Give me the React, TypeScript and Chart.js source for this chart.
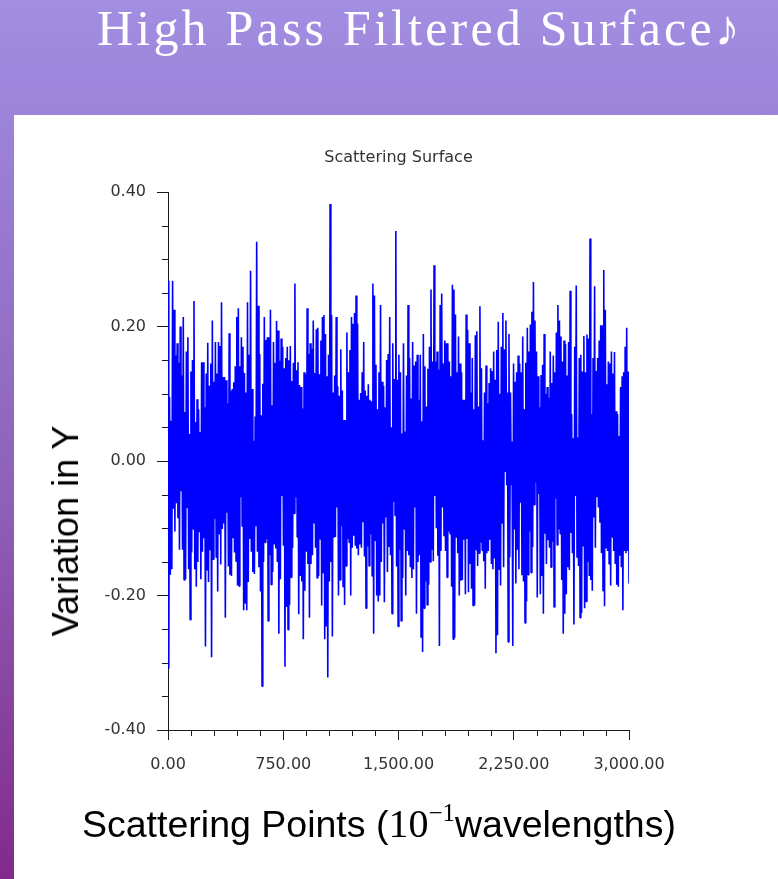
import React, { useEffect, useRef } from "react";
import { Chart, registerables } from "chart.js";

Chart.register(...registerables);

// Upper envelope of the surface per column, left to right
const highs: number[] = [
  0.268, 0.095, 0.06, 0.268, 0.225, 0.157, 0.175, 0.146, 0.2, 0.127,
  0.214, 0.073, 0.163, 0.184, 0.04, 0.133, 0.15, 0.238, 0.058, 0.092,
  0.077, 0.043, 0.147, 0.147, 0.08, 0.13, 0.176, 0.112, 0.145, 0.209,
  0.118, 0.177, 0.13, 0.177, 0.171, 0.236, 0.125, 0.125, 0.12, 0.086,
  0.19, 0.104, 0.107, 0.117, 0.141, 0.214, 0.227, 0.141, 0.184, 0.17,
  0.131, 0.102, 0.236, 0.158, 0.283, 0.107, 0.03, 0.066, 0.326, 0.231,
  0.159, 0.068, 0.115, 0.214, 0.18, 0.184, 0.184, 0.225, 0.083, 0.177,
  0.146, 0.208, 0.194, 0.149, 0.182, 0.17, 0.138, 0.153, 0.17, 0.15,
  0.171, 0.119, 0.146, 0.264, 0.135, 0.147, 0.113, 0.11, 0.078, 0.132,
  0.129, 0.227, 0.159, 0.175, 0.167, 0.209, 0.131, 0.196,
  0.198, 0.129, 0.179, 0.214, 0.217, 0.189, 0.126, 0.158, 0.382, 0.217,
  0.102, 0.127, 0.214, 0.111, 0.097, 0.166, 0.105, 0.061, 0.061, 0.191,
  0.132, 0.165, 0.214, 0.204, 0.22, 0.246, 0.204, 0.091, 0.101, 0.132,
  0.177, 0.105, 0.097, 0.114, 0.091, 0.089, 0.264, 0.246, 0.143, 0.077,
  0.132, 0.232, 0.118, 0.112, 0.08, 0.15, 0.159, 0.214, 0.05, 0.175,
  0.122, 0.342, 0.121, 0.158, 0.132, 0.041, 0.175, 0.044, 0.127, 0.232,
  0.153, 0.093, 0.177, 0.142, 0.148, 0.158, 0.091, 0.158, 0.059, 0.189,
  0.141, 0.081, 0.137, 0.17, 0.255, 0.148, 0.291, 0.148, 0.163, 0.136,
  0.232, 0.249, 0.145, 0.179, 0.175, 0.175, 0.148, 0.126, 0.262, 0.255,
  0.218, 0.132, 0.185, 0.145, 0.132, 0.091, 0.091, 0.218, 0.195,
  0.175, 0.102, 0.153, 0.077, 0.187, 0.193, 0.081, 0.23, 0.138, 0.031,
  0.102, 0.142, 0.086, 0.116, 0.138, 0.134, 0.163, 0.121, 0.165, 0.207,
  0.1, 0.17, 0.22, 0.166, 0.209, 0.102, 0.189, 0.102, 0.029, 0.145,
  0.118, 0.132, 0.157, 0.145, 0.132, 0.185, 0.077, 0.146, 0.198, 0.163,
  0.203, 0.222, 0.266, 0.209, 0.163, 0.126, 0.08, 0.128, 0.143, 0.189,
  0.1, 0.11, 0.094, 0.163, 0.116, 0.157, 0.132, 0.191, 0.232, 0.209,
  0.185, 0.148, 0.179, 0.174, 0.127, 0.177, 0.253, 0.07, 0.034, 0.17,
  0.261, 0.035, 0.153, 0.158, 0.133, 0.186, 0.132, 0.188, 0.182, 0.331,
  0.07, 0.153, 0.26, 0.134, 0.153, 0.179, 0.202, 0.202, 0.284, 0.225,
  0.114, 0.148, 0.145, 0.163, 0.13, 0.162, 0.074, 0.07, 0.037, 0.11,
  0.126, 0.132, 0.17, 0.198, 0.133,
];

// Lower envelope of the surface per column, left to right
const lows: number[] = [
  -0.309, -0.169, -0.161, -0.071, -0.105, -0.063, -0.085, -0.132, -0.045, -0.132,
  -0.177, -0.176, -0.069, -0.161, -0.236, -0.136, -0.101, -0.161, -0.187, -0.15,
  -0.106, -0.176, -0.135, -0.115, -0.276, -0.163, -0.18, -0.132, -0.292, -0.146,
  -0.086, -0.143, -0.194, -0.108, -0.154, -0.101, -0.093, -0.233, -0.077, -0.157,
  -0.169, -0.171, -0.115, -0.136, -0.149, -0.185, -0.186, -0.054, -0.097, -0.222,
  -0.211, -0.222, -0.18, -0.116, -0.135, -0.165, -0.168, -0.097, -0.135, -0.158,
  -0.194, -0.335, -0.15, -0.121, -0.116, -0.238, -0.14, -0.184, -0.165, -0.124,
  -0.13, -0.15, -0.257, -0.176, -0.052, -0.126, -0.306, -0.217, -0.251, -0.214,
  -0.173, -0.129, -0.078, -0.054, -0.113, -0.228, -0.171, -0.179, -0.265, -0.193,
  -0.135, -0.153, -0.233, -0.153, -0.14, -0.092, -0.129, -0.174,
  -0.171, -0.116, -0.215, -0.166, -0.265, -0.246, -0.322, -0.179, -0.15, -0.261,
  -0.114, -0.113, -0.069, -0.2, -0.177, -0.097, -0.187, -0.214, -0.156, -0.116,
  -0.121, -0.2, -0.129, -0.111, -0.126, -0.13, -0.14, -0.124, -0.129, -0.091,
  -0.142, -0.219, -0.127, -0.156, -0.109, -0.171, -0.257, -0.118, -0.2, -0.209,
  -0.2, -0.15, -0.093, -0.21, -0.084, -0.165, -0.128, -0.14, -0.227, -0.061,
  -0.081, -0.157, -0.246, -0.132, -0.238, -0.174, -0.101, -0.2, -0.134, -0.14,
  -0.158, -0.174, -0.161, -0.069, -0.227, -0.15, -0.14, -0.262, -0.284, -0.219,
  -0.179, -0.214, -0.184, -0.15, -0.132, -0.149, -0.052, -0.1, -0.141, -0.275,
  -0.134, -0.069, -0.112, -0.134, -0.173, -0.105, -0.108, -0.187, -0.265, -0.263,
  -0.113, -0.137, -0.2, -0.178, -0.177, -0.117, -0.198, -0.116, -0.195,
  -0.153, -0.19, -0.215, -0.215, -0.132, -0.156, -0.137, -0.121, -0.133, -0.149,
  -0.19, -0.137, -0.134, -0.117, -0.153, -0.161, -0.145, -0.286, -0.259, -0.161,
  -0.185, -0.092, -0.158, -0.015, -0.036, -0.269, -0.143, -0.036, -0.275, -0.102,
  -0.182, -0.132, -0.161, -0.062, -0.17, -0.179, -0.241, -0.209, -0.169, -0.105,
  -0.166, -0.128, -0.065, -0.032, -0.203, -0.049, -0.198, -0.171, -0.227, -0.108,
  -0.153, -0.118, -0.129, -0.158, -0.12, -0.217, -0.056, -0.125, -0.102, -0.108,
  -0.177, -0.257, -0.227, -0.198, -0.158, -0.162, -0.107, -0.137, -0.243, -0.052,
  -0.143, -0.156, -0.233, -0.226, -0.126, -0.219, -0.209, -0.15, -0.171, -0.177,
  -0.193, -0.084, -0.129, -0.054, -0.069, -0.092, -0.137, -0.193, -0.216, -0.129,
  -0.134, -0.153, -0.185, -0.113, -0.134, -0.153, -0.184, -0.187, -0.141, -0.158,
  -0.222, -0.134, -0.137, -0.134, -0.182,
];

const xMin = 0;
const xMax = 3000;
const yMin = -0.4;
const yMax = 0.4;
const xTicks: number[] = [0, 750, 1500, 2250, 3000];
const yTicks: number[] = [-0.4, -0.2, 0, 0.2, 0.4];
const xMinorTicks: number[] = [150, 300, 450, 600, 900, 1050, 1200, 1350, 1650, 1800, 1950, 2100, 2400, 2550, 2700, 2850];
const yMinorTicks: number[] = [-0.35, -0.3, -0.25, -0.15, -0.1, -0.05, 0.05, 0.1, 0.15, 0.25, 0.3, 0.35];

const chartTitle = "Scattering Surface";
const yTitle = "Variation in Y";

const AXIS_COLOR = "#1a1a1a";
const TEXT_COLOR = "#333333";
const TICK_FONT = { family: "'DejaVu Sans', sans-serif", size: 16 };

const extrasPlugin = {
  id: "extras",
  afterDraw(chart: any) {
    const { ctx, chartArea, scales } = chart;
    const x = scales.x;
    const y = scales.y;
    ctx.save();
    ctx.strokeStyle = AXIS_COLOR;
    ctx.lineWidth = 1;
    ctx.beginPath();
    for (const v of yMinorTicks) {
      const py = Math.round(y.getPixelForValue(v)) + 0.5;
      ctx.moveTo(chartArea.left - 6, py);
      ctx.lineTo(chartArea.left, py);
    }
    for (const v of xMinorTicks) {
      const px = Math.round(x.getPixelForValue(v)) + 0.5;
      ctx.moveTo(px, chartArea.bottom);
      ctx.lineTo(px, chartArea.bottom + 6);
    }
    ctx.stroke();
    // chart title centred over the plot area
    ctx.fillStyle = TEXT_COLOR;
    ctx.font = "16px 'DejaVu Sans', sans-serif";
    ctx.textAlign = "center";
    ctx.textBaseline = "middle";
    ctx.fillText(chartTitle, (chartArea.left + chartArea.right) / 2, 44);
    ctx.restore();
  },
};

function ChartCanvas() {
  const ref = useRef<HTMLCanvasElement | null>(null);
  useEffect(() => {
    if (!ref.current) return;
    const n = highs.length;
    const step = (xMax - xMin) / (n - 0.5);
    const points: { x: number; y: number }[] = [];
    for (let i = 0; i < n; i++) {
      points.push({ x: xMin + i * step, y: highs[i] });
      points.push({ x: xMin + i * step + step / 2, y: lows[i] });
    }
    const chart = new Chart(ref.current, {
      type: "line",
      data: {
        datasets: [
          {
            data: points,
            borderColor: "#0000FF",
            borderWidth: 1.6,
            borderJoinStyle: "bevel",
            pointRadius: 0,
            fill: false,
            tension: 0,
          },
        ],
      },
      options: {
        animation: false,
        responsive: false,
        devicePixelRatio: 1,
        parsing: false,
        layout: { padding: { left: 0, right: 149, top: 78, bottom: 0 } },
        plugins: {
          legend: { display: false },
          tooltip: { enabled: false },
          title: { display: false },
        },
        scales: {
          x: {
            type: "linear",
            min: xMin,
            max: xMax,
            afterBuildTicks: (scale: any) => {
              scale.ticks = xTicks.map((v) => ({ value: v }));
            },
            afterFit: (scale: any) => {
              scale.height = 149;
            },
            ticks: {
              color: TEXT_COLOR,
              font: TICK_FONT,
              padding: 15,
              maxRotation: 0,
              autoSkip: false,
              callback: (v: any) =>
                Number(v).toLocaleString("en-US", { minimumFractionDigits: 2, maximumFractionDigits: 2 }),
            },
            grid: {
              display: true,
              drawOnChartArea: false,
              drawTicks: true,
              tickLength: 10,
              color: AXIS_COLOR,
              tickColor: AXIS_COLOR,
            },
            border: { display: true, color: AXIS_COLOR, width: 1 },
          },
          y: {
            type: "linear",
            min: yMin,
            max: yMax,
            afterBuildTicks: (scale: any) => {
              scale.ticks = yTicks.map((v) => ({ value: v }));
            },
            afterFit: (scale: any) => {
              scale.width = 154;
            },
            ticks: {
              color: TEXT_COLOR,
              font: TICK_FONT,
              padding: 11,
              autoSkip: false,
              callback: (v: any) => (Math.abs(Number(v)) < 1e-9 ? 0 : Number(v)).toFixed(2),
            },
            grid: {
              display: true,
              drawOnChartArea: false,
              drawTicks: true,
              tickLength: 11,
              color: AXIS_COLOR,
              tickColor: AXIS_COLOR,
            },
            border: { display: true, color: AXIS_COLOR, width: 1 },
          },
        },
      },
      plugins: [extrasPlugin],
    } as any);
    return () => chart.destroy();
  }, []);
  return <canvas ref={ref} width={764} height={765} style={{ display: "block", width: 764, height: 765 }} />;
}

export default function App() {
  return (
    <div
      style={{
        position: "absolute",
        left: 0,
        top: 0,
        width: 778,
        height: 879,
        overflow: "hidden",
        background: "linear-gradient(to bottom, #A28EE2 0%, #9B82D8 15%, #8F62BA 55%, #822A8B 100%)",
      }}
    >
      <div
        style={{
          position: "absolute",
          left: 97,
          top: 3,
          color: "#ffffff",
          fontFamily: "'Liberation Serif', serif",
          fontSize: 50,
          lineHeight: "50px",
          letterSpacing: "3.2px",
          whiteSpace: "nowrap",
        }}
      >
        High Pass Filtered Surface♪
      </div>
      <div style={{ position: "absolute", left: 14, top: 115, width: 764, height: 764, background: "#ffffff" }}>
        <div style={{ position: "absolute", left: 0, top: -1 }}>
          <ChartCanvas />
        </div>
        <div
          style={{
            position: "absolute",
            left: 52,
            top: 416,
            transform: "translate(-50%, -50%) rotate(-90deg)",
            fontFamily: "'Liberation Sans', Arial, sans-serif",
            fontSize: 36,
            lineHeight: "36px",
            color: "#000000",
            whiteSpace: "nowrap",
          }}
        >
          {yTitle}
        </div>
        <div
          style={{
            position: "absolute",
            left: 68,
            top: 690,
            fontFamily: "'Liberation Sans', Arial, sans-serif",
            fontSize: 37.5,
            lineHeight: "38px",
            color: "#000000",
            whiteSpace: "nowrap",
          }}
        >
          Scattering Points (
          <span style={{ fontFamily: "'Liberation Serif', serif", fontSize: 40 }}>10</span>
          <span style={{ fontFamily: "'Liberation Serif', serif", fontSize: 25, position: "relative", top: -16 }}>
            −1
          </span>
          wavelengths)
        </div>
      </div>
    </div>
  );
}
